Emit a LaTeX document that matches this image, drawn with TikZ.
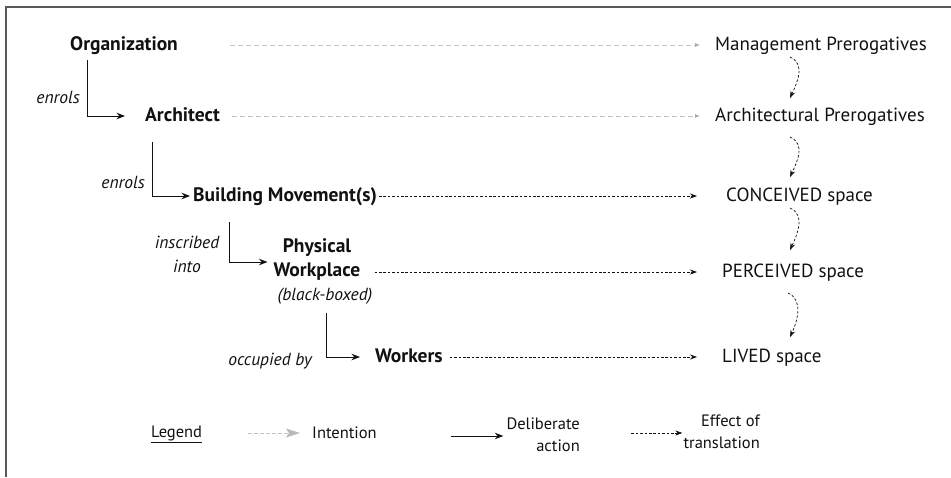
\documentclass[tikz,border=0pt]{standalone}
\usepackage{fontspec}
\setmainfont{PT Sans}
\usetikzlibrary{arrows.meta}
\definecolor{ink}{HTML}{111111}
\definecolor{framegray}{HTML}{5A5A5A}
\definecolor{intentgray}{HTML}{C4C4C4}
\definecolor{intenthead}{HTML}{A8A8A8}
\begin{document}
\begin{tikzpicture}[x=1pt,y=-1pt,
  every node/.style={inner sep=0pt, text=ink, text height=14pt, text depth=4pt},
  actor/.style={font=\fontsize{19.5}{24}\selectfont\bfseries, anchor=west},
  space/.style={font=\fontsize{19}{24}\selectfont, anchor=west},
  verb/.style={font=\fontsize{17.5}{24}\selectfont\itshape},
  legendtext/.style={font=\fontsize{16.5}{22}\selectfont},
  act/.style={draw=ink, line width=0.9pt, -{Stealth[length=8.5pt,width=6.5pt]}},
  intent/.style={draw=intentgray, line width=0.8pt, dash pattern=on 5pt off 3pt,
    -{Latex[length=5pt,width=4pt,color=intenthead]}},
  effect/.style={draw=ink, line width=0.7pt, dash pattern=on 2.6pt off 1.8pt,
    -{Stealth[length=7pt,width=5pt]}},
]
\useasboundingbox (0,0) rectangle (951,477);
% frame along the top and left edges
\draw[framegray, line width=2pt] (6,477) -- (6,7) -- (951,7);

% actors
\node[actor] (org)  at (70,45)   {Organization};
\node[actor] (arch) at (145,116) {Architect};
\node[actor] (bm)   at (193,196) {Building Movement(s)};
\node[font=\fontsize{19.5}{24}\selectfont\bfseries, align=center, text height=, text depth=] (pw) at (317,260) {Physical\\Workplace};
\node[verb] (bb) at (325,295) {(black-boxed)};
\node[actor] (wk)   at (375,357) {Workers};

% spaces and prerogatives
\node[space] (mp) at (715,45)  {Management Prerogatives};
\node[space] (ap) at (715,116) {Architectural Prerogatives};
\node[space] (cs) at (726,196) {CONCEIVED space};
\node[space] (ps) at (722,272) {PERCEIVED space};
\node[space] (ls) at (722,357) {LIVED space};

% deliberate actions
\draw[act] ([xshift=17pt,yshift=-15pt]org.west) |- ([xshift=-20pt]arch.west);
\node[verb, anchor=east] (v1) at (80,98) {enrols};
\draw[act] ([xshift=7pt,yshift=-26pt]arch.west) |- ([xshift=-3pt]bm.west);
\node[verb, anchor=east] (v2) at (145,183) {enrols};
\draw[act] ([xshift=36pt,yshift=-26pt]bm.west) |- ([xshift=-6pt,yshift=-2pt]pw.west);
\node[verb, align=center, text height=, text depth=] (v3) at (187,254) {inscribed\\into};
\draw[act] ([xshift=1pt,yshift=-18pt]bb.center) |- ([xshift=-15pt]wk.west);
\node[verb, anchor=east] (v4) at (312,360) {occupied by};

% intentions
\draw[intent] ([xshift=52pt]org.east)  -- ([xshift=-15pt]mp.west);
\draw[intent] ([xshift=12pt]arch.east) -- ([xshift=-15pt]ap.west);

% effects of translation
\draw[effect] ([xshift=2pt]bm.east) -- ([xshift=-29pt]cs.west);
\draw[effect] ([xshift=14pt,yshift=-12pt]pw.east) -- ([xshift=-25pt]ps.west);
\draw[effect] ([xshift=7pt]wk.east) -- ([xshift=-25pt]ls.west);

\draw[effect] ([xshift=75pt,yshift=-12pt]mp.west) .. controls +(16,7) and +(7,-15) .. ([xshift=75pt,yshift=18pt]ap.west);
\draw[effect] ([xshift=75pt,yshift=-21pt]ap.west) .. controls +(16,7) and +(7,-15) .. ([xshift=64pt,yshift=19pt]cs.west);
\draw[effect] ([xshift=64pt,yshift=-12pt]cs.west) .. controls +(16,7) and +(7,-15) .. ([xshift=68pt,yshift=22pt]ps.west);
\draw[effect] ([xshift=66pt,yshift=-21pt]ps.west) .. controls +(16,7) and +(7,-15) .. ([xshift=68pt,yshift=20pt]ls.west);

% legend
\node[legendtext, anchor=west] (lg) at (151,432) {\underline{Legend}};
\node[legendtext, anchor=west] (li) at (312,433) {Intention};
\draw[draw=intentgray, line width=0.8pt, dash pattern=on 4pt off 2pt,
  -{Stealth[length=14pt,width=9pt,inset=3pt,color=intenthead!80]}]
  ([xshift=-64pt]li.west) -- ([xshift=-12pt]li.west);
\node[legendtext, align=right, anchor=east, text height=, text depth=] (ld) at (580,435) {Deliberate\\action};
\draw[act] ([xshift=-55pt,yshift=-1pt]ld.west) -- ([xshift=-3pt,yshift=-1pt]ld.west);
\node[legendtext, align=right, anchor=east, text height=, text depth=] (le) at (760,432) {Effect of\\translation};
\draw[effect] ([xshift=-52pt,yshift=-1pt]le.west) -- ([xshift=-1pt,yshift=-1pt]le.west);
\end{tikzpicture}
\end{document}
